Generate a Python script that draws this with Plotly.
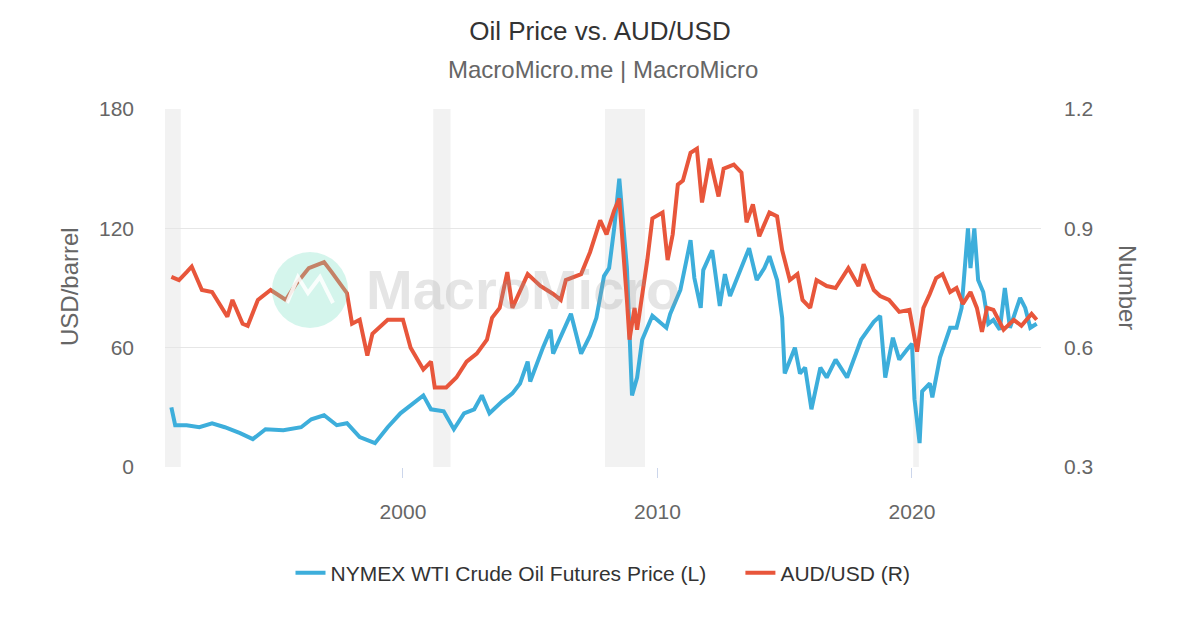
import plotly.graph_objects as go

# ---- data (decimal years) ----
oil_years = [1990.9, 1991.05, 1991.5, 1992.0, 1992.5, 1993.0, 1993.6, 1994.1, 1994.6, 1995.3,
             1996.0, 1996.4, 1996.9, 1997.4, 1997.8, 1998.3, 1998.9, 1999.4, 1999.9, 2000.4,
             2000.8, 2001.1, 2001.6, 2002.0, 2002.4, 2002.8, 2003.1, 2003.4, 2003.9, 2004.3,
             2004.6, 2004.9, 2005.0, 2005.5, 2005.8, 2005.9, 2006.3, 2006.6, 2007.0, 2007.35,
             2007.6, 2007.9, 2008.1, 2008.3, 2008.5, 2008.65, 2008.8, 2009.0, 2009.2, 2009.4,
             2009.8, 2010.35, 2010.5, 2010.9, 2011.3, 2011.45, 2011.7, 2011.8, 2012.15, 2012.45,
             2012.65, 2012.85, 2013.2, 2013.6, 2013.9, 2014.2, 2014.4, 2014.7, 2014.9, 2015.0,
             2015.4, 2015.6, 2015.8, 2016.05, 2016.4, 2016.65, 2017.0, 2017.45, 2018.0, 2018.5,
             2018.75, 2018.95, 2019.25, 2019.5, 2019.8, 2020.0, 2020.1, 2020.3, 2020.4, 2020.7,
             2020.8, 2021.1, 2021.5, 2021.75, 2021.95, 2022.05, 2022.2, 2022.3, 2022.45, 2022.6,
             2022.8, 2023.0, 2023.2, 2023.45, 2023.65, 2023.85, 2024.25, 2024.45, 2024.65, 2024.9]
oil_values = [30, 21, 21, 20, 22, 20, 17, 14, 19, 18.5,
              20, 24, 26, 21, 22, 15, 12, 20, 27, 32,
              36, 29, 28, 19, 27, 29, 36, 27, 33, 37,
              42, 53, 43, 60, 69, 57, 68, 77, 57, 66,
              75, 96, 100, 120, 145, 120, 100, 36, 45, 64,
              76, 70, 77, 89, 114, 95, 80, 99, 109, 81,
              97, 86, 97, 110, 94, 100, 106, 94, 75, 47,
              60, 47, 50, 29, 50, 45, 54, 45, 64, 73,
              76, 45, 65, 54, 59, 62, 34, 12, 38, 42,
              35, 55, 70, 70, 80, 95, 120, 100, 120, 94,
              88, 72, 74, 69, 90, 70, 85, 80, 70, 72]

aud_years = [1990.9, 1991.2, 1991.5, 1991.7, 1992.1, 1992.5, 1993.1, 1993.3, 1993.7, 1993.9,
             1994.3, 1994.8, 1995.4, 1995.8, 1996.3, 1996.9, 1997.2, 1997.8, 1998.0, 1998.3,
             1998.6, 1998.8, 1999.4, 2000.0, 2000.3, 2000.8, 2001.1, 2001.25, 2001.7, 2002.1,
             2002.5, 2002.9, 2003.3, 2003.5, 2003.8, 2004.1, 2004.3, 2004.9, 2005.4, 2005.9,
             2006.2, 2006.4, 2007.0, 2007.35, 2007.75, 2008.0, 2008.3, 2008.5, 2008.8, 2008.9,
             2009.1, 2009.2, 2009.6, 2009.8, 2010.2, 2010.4, 2010.6, 2010.8, 2011.0, 2011.3,
             2011.55, 2011.75, 2012.06, 2012.4, 2012.6, 2013.0, 2013.3, 2013.5, 2013.75, 2014.0,
             2014.4, 2014.7, 2014.9, 2015.2, 2015.5, 2015.7, 2016.0, 2016.25, 2016.65, 2017.0,
             2017.5, 2017.9, 2018.1, 2018.5, 2018.75, 2019.1, 2019.5, 2019.9, 2020.2, 2020.45,
             2020.7, 2020.95, 2021.2, 2021.5, 2021.75, 2022.0, 2022.3, 2022.55, 2022.75, 2022.95,
             2023.2, 2023.6, 2024.0, 2024.3, 2024.7, 2024.9]
aud_values = [0.778, 0.77, 0.79, 0.804, 0.745, 0.74, 0.678, 0.72, 0.66, 0.655,
              0.72, 0.745, 0.72, 0.76, 0.80, 0.815, 0.79, 0.737, 0.66, 0.67,
              0.58, 0.635, 0.67, 0.67, 0.60, 0.545, 0.565, 0.50, 0.50, 0.525,
              0.565, 0.585, 0.62, 0.675, 0.70, 0.79, 0.70, 0.785, 0.755, 0.735,
              0.72, 0.77, 0.785, 0.84, 0.92, 0.885, 0.945, 0.975, 0.72, 0.62,
              0.70, 0.645, 0.82, 0.925, 0.94, 0.82, 0.885, 1.01, 1.02, 1.09,
              1.10, 0.965, 1.075, 0.98, 1.05, 1.06, 1.04, 0.915, 0.96, 0.88,
              0.94, 0.93, 0.845, 0.77, 0.785, 0.72, 0.70, 0.77, 0.755, 0.75,
              0.80, 0.755, 0.81, 0.745, 0.73, 0.72, 0.69, 0.695, 0.59, 0.70,
              0.735, 0.775, 0.785, 0.74, 0.75, 0.71, 0.74, 0.70, 0.64, 0.70,
              0.695, 0.645, 0.67, 0.655, 0.685, 0.67]

recession_start = [1990.65, 2001.19, 2007.94, 2020.05]
recession_end = [1991.27, 2001.87, 2009.51, 2020.27]

x_ticks = [2000, 2010, 2020]
left_ticks = [0, 60, 120, 180]
right_ticks = [0.3, 0.6, 0.9, 1.2]

BLUE = "#3DAEDB"
RED = "#E8563B"
FONT = "Liberation Sans, Arial, sans-serif"

fig = go.Figure()
fig.add_trace(go.Scatter(x=oil_years, y=oil_values,
                         name="NYMEX WTI Crude Oil Futures Price (L)" + "&nbsp;" * 5,
                         mode="lines", line=dict(color=BLUE, width=4), yaxis="y"))
fig.add_trace(go.Scatter(x=aud_years, y=aud_values, name="AUD/USD (R)",
                         mode="lines", line=dict(color=RED, width=4), yaxis="y2"))

shapes = []
for s, e in zip(recession_start, recession_end):
    shapes.append(dict(type="rect", xref="x", yref="paper", x0=s, x1=e, y0=0, y1=1,
                       fillcolor="#f2f2f2", line=dict(width=0), layer="below"))

# watermark (decorative)
def px(xp):
    return (xp - 165) / 876.0
def py(yp):
    return (467 - yp) / 358.0

shapes.append(dict(type="circle", xref="paper", yref="paper",
                   x0=px(272), x1=px(348), y0=py(328), y1=py(252),
                   fillcolor="rgba(120,225,195,0.32)", line=dict(width=0), layer="above"))
zig = [(287, 303), (298, 277), (308, 293), (320, 277), (333, 303)]
path = "M " + " L ".join(f"{px(a):.4f},{py(b):.4f}" for a, b in zig)
shapes.append(dict(type="path", xref="paper", yref="paper", path=path,
                   line=dict(color="rgba(255,255,255,0.85)", width=4), layer="above"))

annotations = [
    dict(text="<b>MacroMicro</b>", xref="paper", yref="paper", x=px(523), y=py(289),
         xanchor="center", yanchor="middle",
         showarrow=False, font=dict(family=FONT, size=56, color="rgba(150,150,150,0.25)")),
    dict(text="USD/barrel", xref="paper", yref="paper", x=px(69), y=py(287), textangle=-90,
         xanchor="center", yanchor="middle",
         showarrow=False, font=dict(family=FONT, size=24, color="#666666")),
    dict(text="Number", xref="paper", yref="paper", x=px(1128), y=py(287), textangle=90,
         xanchor="center", yanchor="middle",
         showarrow=False, font=dict(family=FONT, size=24, color="#666666")),
    dict(text="MacroMicro.me | MacroMicro", xref="paper", yref="paper", x=0.5, y=py(70),
         xanchor="center", yanchor="middle", showarrow=False,
         font=dict(family=FONT, size=24, color="#666666")),
]

fig.update_layout(
    width=1200, height=630,
    paper_bgcolor="white", plot_bgcolor="white",
    margin=dict(l=165, r=159, t=109, b=163),
    font=dict(family=FONT, color="#666666", size=21),
    title=dict(text="Oil Price vs. AUD/USD", x=0.5, xanchor="center", y=1 - 31 / 630, yanchor="middle",
               font=dict(family=FONT, size=26, color="#333333")),
    showlegend=True,
    legend=dict(orientation="h", x=0.5, xanchor="center", y=py(573), yanchor="middle",
                font=dict(family=FONT, size=21, color="#333333"), itemwidth=30,
                traceorder="normal"),
    xaxis=dict(range=[1990.65, 2025.07], tickvals=x_ticks, ticktext=[str(v) for v in x_ticks],
               showgrid=False, zeroline=False, showline=False, ticks="outside", ticklen=10,
               tickcolor="#ccd6eb", tickfont=dict(size=21, color="#666666"), ticklabelstandoff=16),
    yaxis=dict(range=[0, 180], tickvals=left_ticks, showgrid=True, gridcolor="#e6e6e6", gridwidth=1,
               zeroline=False, tickfont=dict(size=21, color="#666666"), ticklabelstandoff=30),
    yaxis2=dict(range=[0.3, 1.2], tickvals=right_ticks, ticktext=["0.3", "0.6", "0.9", "1.2"],
                overlaying="y", side="right", showgrid=False, zeroline=False,
                tickfont=dict(size=21, color="#666666"), ticklabelstandoff=22),
    shapes=shapes,
    annotations=annotations,
)

fig.write_html("out.html", config={"displayModeBar": False},
               post_script="document.body.style.margin='0';document.body.style.padding='0';")
